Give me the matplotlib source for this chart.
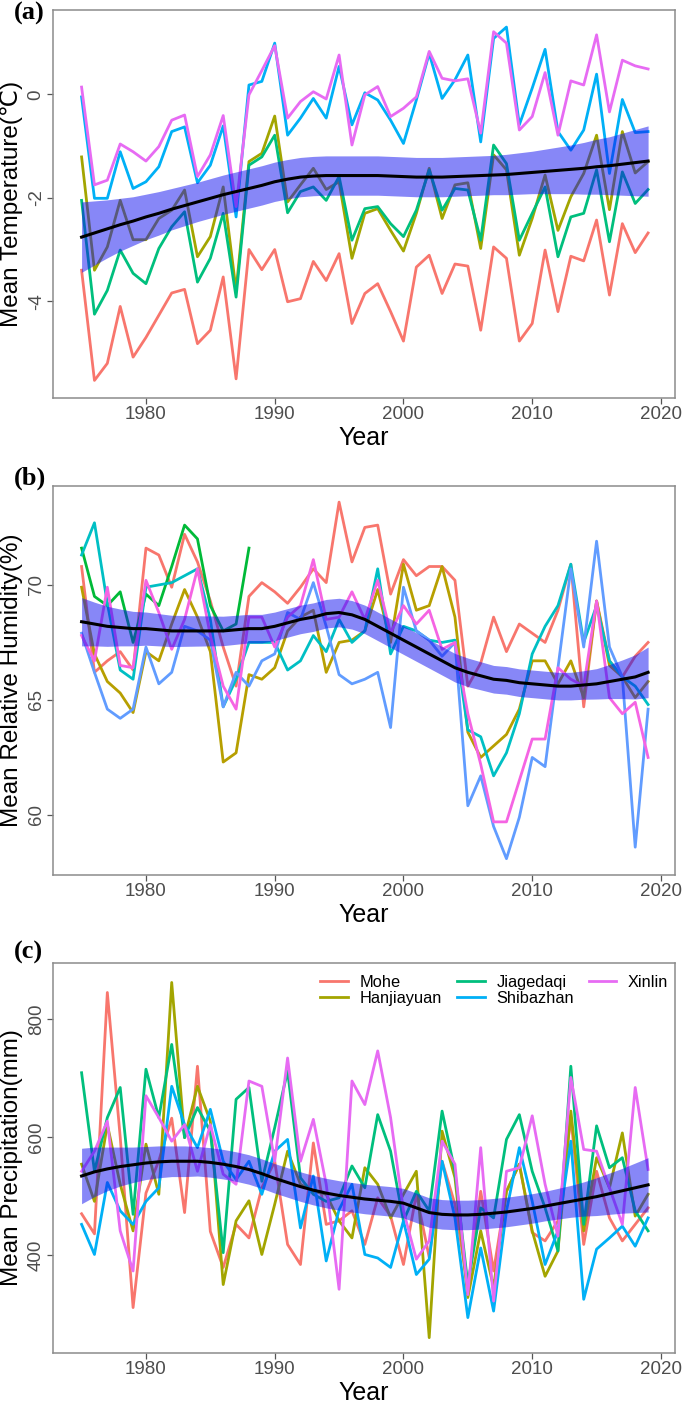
import numpy as np
import matplotlib
matplotlib.use("Agg")
import matplotlib.pyplot as plt

plt.rcParams['font.family'] = ['Liberation Sans', 'DejaVu Sans']
plt.rcParams['axes.unicode_minus'] = False

years = np.arange(1975, 2020)
stations = ["Mohe", "Hanjiayuan", "Jiagedaqi", "Shibazhan", "Xinlin"]
colors5 = ["#F8766D", "#A3A500", "#00BF7D", "#00B0F6", "#E76BF3"]
colors6 = ["#F8766D", "#B79F00", "#00BA38", "#00BFC4", "#619CFF", "#F564E3"]

# ---- (a) mean temperature
mohe_t = [-3.40, -5.53, -5.20, -4.10, -5.08, -4.70, -4.27, -3.84, -3.77, -4.82,
          -4.56, -3.53, -5.50, -3.00, -3.39, -3.00, -4.01, -3.95, -3.23, -3.60,
          -3.08, -4.43, -3.85, -3.66, -4.20, -4.77, -3.34, -3.11, -3.85, -3.28,
          -3.32, -4.56, -2.95, -3.17, -4.77, -4.43, -3.01, -4.20, -3.13, -3.22,
          -2.43, -3.88, -2.50, -3.06, -2.68]
hanj_t = [-1.21, -3.40, -2.95, -2.05, -2.81, -2.81, -2.40, -2.24, -1.85, -3.14,
          -2.75, -1.79, -3.79, -1.30, -1.14, -0.42, -2.08, -1.75, -1.43, -1.84,
          -1.69, -3.17, -2.30, -2.21, -2.63, -3.03, -2.30, -1.43, -2.40, -1.75,
          -1.71, -2.98, -1.17, -1.46, -3.11, -2.40, -1.56, -2.63, -1.98, -1.53,
          -0.79, -2.23, -0.72, -1.52, -1.30]
jiag_t = [-2.05, -4.25, -3.79, -3.01, -3.46, -3.66, -2.98, -2.56, -2.27, -3.63,
          -3.17, -2.30, -3.92, -1.37, -1.21, -0.79, -2.29, -1.88, -1.79, -2.05,
          -1.59, -2.82, -2.21, -2.17, -2.50, -2.75, -2.24, -1.46, -2.24, -1.82,
          -1.85, -2.82, -0.98, -1.34, -2.82, -2.30, -1.79, -3.14, -2.37, -2.30,
          -1.46, -2.85, -1.50, -2.11, -1.84]
shib_t = [-0.05, -2.01, -2.01, -1.11, -1.82, -1.69, -1.40, -0.72, -0.63, -1.71,
          -1.37, -0.61, -2.37, 0.18, 0.25, 0.99, -0.79, -0.46, -0.08, -0.46,
          0.54, -0.59, 0.03, -0.11, -0.50, -0.95, -0.11, 0.79, -0.08, 0.28,
          0.76, -0.92, 1.08, 1.30, -0.59, 0.12, 0.87, -0.72, -1.08, -0.69,
          0.39, -1.53, -0.10, -0.74, -0.72]
xinl_t = [0.14, -1.75, -1.66, -0.96, -1.11, -1.29, -1.01, -0.50, -0.40, -1.59,
          -1.17, -0.41, -2.17, -0.01, 0.46, 0.94, -0.46, -0.14, 0.05, -0.09,
          0.76, -0.98, -0.01, 0.15, -0.43, -0.27, -0.05, 0.83, 0.31, 0.26,
          0.30, -0.75, 1.21, 0.99, -0.69, -0.43, 0.42, -0.79, 0.26, 0.18,
          1.15, -0.34, 0.66, 0.55, 0.49]
smooth_t = [-2.76, -2.68, -2.60, -2.52, -2.45, -2.37, -2.30, -2.22, -2.15, -2.08,
            -2.01, -1.94, -1.88, -1.82, -1.76, -1.69, -1.64, -1.60, -1.58, -1.57,
            -1.57, -1.57, -1.57, -1.57, -1.58, -1.59, -1.60, -1.60, -1.60, -1.59,
            -1.58, -1.57, -1.56, -1.55, -1.53, -1.51, -1.49, -1.47, -1.45, -1.43,
            -1.40, -1.38, -1.35, -1.32, -1.29]
band_t = [0.68, 0.62, 0.56, 0.51, 0.47, 0.44, 0.42, 0.40, 0.39, 0.38,
          0.38, 0.38, 0.38, 0.38, 0.38, 0.38, 0.38, 0.38, 0.38, 0.38,
          0.38, 0.38, 0.38, 0.38, 0.38, 0.38, 0.38, 0.38, 0.38, 0.38,
          0.38, 0.38, 0.38, 0.39, 0.40, 0.41, 0.43, 0.45, 0.47, 0.50,
          0.53, 0.56, 0.60, 0.64, 0.68]

# ---- (b) mean relative humidity (six coloured groups in the original)
mohe_h = [70.8, 66.2, 66.7, 67.1, 66.3, 71.6, 71.3, 69.9, 72.2, 71.0,
          69.3, 67.3, 65.6, 69.5, 70.1, 69.7, 69.2, 69.9, 70.7, 70.1,
          73.6, 71.0, 72.5, 72.6, 69.6, 71.1, 70.4, 70.8, 70.8, 70.2,
          65.6, 66.6, 68.6, 67.1, 68.3, 67.9, 67.5, 68.9, 70.9, 64.7,
          69.3, 66.7, 66.0, 66.9, 67.5]
hanj_h = [69.9, 67.0, 65.8, 65.3, 64.45, 67.1, 66.7, 68.3, 69.8, 68.6,
          67.1, 62.3, 62.7, 66.1, 65.9, 66.4, 68.0, 68.6, 68.9, 66.2,
          67.5, 67.6, 68.0, 69.8, 67.5, 70.9, 68.9, 69.1, 70.8, 68.6,
          63.6, 62.5, 63.0, 63.5, 64.6, 66.7, 66.7, 65.7, 66.7, 65.1,
          69.3, 66.5, 66.0, 65.1, 65.8]
jiag_h = [71.6, 69.5, 69.1, 69.7, 67.5, 69.6, 69.1, 70.8, 72.6, 72.0,
          69.1, 68.0, 68.3, 71.6] + [np.nan] * 31
teal_h = [71.3, 72.7, 69.2, 66.3, 65.9, 69.9, 70.0, 70.1, 70.4, 70.7,
          68.5, 64.7, 65.9, 67.5, 67.5, 67.5, 66.3, 66.7, 67.8, 67.1,
          68.5, 67.5, 68.0, 70.7, 67.0, 68.2, 68.0, 67.6, 67.5, 67.6,
          63.7, 63.4, 61.7, 62.7, 64.4, 67.0, 68.2, 69.1, 70.9, 67.5,
          69.1, 66.7, 66.0, 65.6, 64.8]
shib_h = [67.9, 66.2, 64.6, 64.2, 64.6, 67.3, 65.7, 66.2, 68.2, 68.0,
          67.6, 64.7, 66.2, 65.6, 66.7, 67.0, 68.8, 68.5, 70.1, 68.2,
          66.1, 65.7, 65.9, 66.2, 63.8, 69.9, 68.0, 67.6, 66.9, 67.5,
          60.4, 61.7, 59.5, 58.1, 59.9, 62.5, 62.1, 66.4, 70.7, 67.3,
          71.9, 67.3, 66.0, 58.6, 64.6]
xinl_h = [67.8, 66.7, 69.9, 66.5, 66.4, 70.2, 68.8, 67.2, 68.5, 70.7,
          67.8, 65.6, 64.6, 68.6, 68.6, 67.3, 68.6, 69.1, 71.1, 68.5,
          68.6, 69.7, 68.5, 70.2, 67.9, 69.1, 68.3, 68.9, 67.2, 67.5,
          64.4, 62.2, 59.7, 59.7, 61.5, 63.3, 63.3, 66.4, 65.9, 65.6,
          69.3, 65.1, 64.4, 64.9, 62.5]
smooth_h = [68.4, 68.3, 68.2, 68.15, 68.1, 68.1, 68.05, 68.0, 68.0, 68.0,
            68.0, 68.0, 68.05, 68.1, 68.1, 68.2, 68.35, 68.5, 68.6, 68.75,
            68.8, 68.7, 68.5, 68.2, 67.9, 67.6, 67.3, 67.0, 66.7, 66.4,
            66.2, 66.05, 65.9, 65.85, 65.75, 65.7, 65.65, 65.6, 65.6, 65.65,
            65.7, 65.8, 65.9, 66.0, 66.2]
band_h = [1.05, 0.95, 0.87, 0.80, 0.75, 0.72, 0.70, 0.68, 0.67, 0.66,
          0.65, 0.64, 0.63, 0.62, 0.62, 0.62, 0.62, 0.62, 0.62, 0.62,
          0.62, 0.62, 0.62, 0.62, 0.62, 0.62, 0.62, 0.62, 0.62, 0.62,
          0.62, 0.61, 0.60, 0.60, 0.60, 0.60, 0.60, 0.60, 0.60, 0.62,
          0.66, 0.74, 0.84, 0.96, 1.10]

# ---- (c) mean precipitation
mohe_p = [470, 436, 845, 600, 311, 505, 560, 632, 472, 720,
          440, 379, 452, 429, 514, 559, 418, 384, 590, 452,
          458, 475, 418, 497, 466, 384, 503, 396, 559, 486,
          345, 508, 373, 508, 554, 438, 424, 458, 633, 418,
          542, 463, 424, 452, 480]
hanj_p = [554, 491, 621, 520, 441, 588, 503, 862, 599, 686,
          627, 350, 458, 492, 401, 486, 576, 520, 508, 503,
          458, 429, 548, 520, 463, 503, 542, 260, 610, 531,
          328, 441, 345, 508, 554, 441, 364, 407, 644, 441,
          565, 514, 607, 466, 503]
jiag_p = [709, 542, 633, 684, 469, 715, 633, 757, 599, 650,
          610, 404, 664, 684, 525, 616, 712, 531, 503, 491,
          497, 551, 514, 638, 576, 458, 508, 475, 644, 542,
          350, 480, 463, 596, 638, 542, 480, 407, 720, 452,
          619, 548, 565, 475, 441]
shib_p = [452, 401, 523, 475, 452, 491, 514, 686, 621, 582,
          647, 559, 528, 559, 503, 576, 596, 446, 534, 390,
          477, 520, 401, 395, 379, 458, 367, 393, 559, 463,
          294, 412, 305, 475, 582, 491, 384, 441, 593, 325,
          410, 429, 449, 415, 463]
xinl_p = [542, 576, 627, 441, 373, 670, 633, 593, 621, 542,
          621, 537, 520, 695, 686, 559, 734, 559, 630, 520,
          342, 695, 655, 746, 633, 475, 393, 424, 593, 554,
          333, 582, 322, 542, 548, 636, 520, 432, 701, 579,
          576, 514, 452, 684, 545]
smooth_p = [534, 541, 546, 550, 553, 556, 558, 559, 559, 559,
            557, 554, 550, 545, 538, 530, 523, 516, 510, 505,
            501, 498, 495, 493, 491, 488, 480, 472, 469, 468,
            468, 469, 471, 473, 476, 479, 483, 487, 491, 495,
            499, 504, 509, 514, 519]
band_p = [47, 42, 37, 33, 30, 28, 27, 26, 26, 25,
          25, 25, 25, 25, 25, 25, 25, 25, 25, 25,
          25, 25, 25, 25, 25, 25, 25, 25, 25, 25,
          25, 25, 25, 25, 25, 25, 25, 26, 27, 29,
          32, 35, 38, 42, 46]

panels = [
    dict(series=[mohe_t, hanj_t, jiag_t, shib_t, xinl_t], colors=colors5,
         smooth=smooth_t, band=band_t, ylim=(-5.87, 1.63), yticks=[-4, -2, 0],
         ylabel="Mean Temperature(\u2103)", letter="(a)", top=10, bottom=398),
    dict(series=[mohe_h, hanj_h, jiag_h, teal_h, shib_h, xinl_h], colors=colors6,
         smooth=smooth_h, band=band_h, ylim=(57.39, 74.3), yticks=[60, 65, 70],
         ylabel="Mean Relative Humidity(%)", letter="(b)", top=486, bottom=875),
    dict(series=[mohe_p, hanj_p, jiag_p, shib_p, xinl_p], colors=colors5,
         smooth=smooth_p, band=band_p, ylim=(234, 895), yticks=[400, 600, 800],
         ylabel="Mean Precipitation(mm)", letter="(c)", top=963, bottom=1353),
]

W, H = 685, 1411
fig = plt.figure(figsize=(W / 100, H / 100), dpi=100)
left, right = 53, 675
letter_top = {"(a)": 2, "(b)": 467, "(c)": 941}

for p in panels:
    ax = fig.add_axes([left / W, 1 - p["bottom"] / H, (right - left) / W,
                       (p["bottom"] - p["top"]) / H])
    for vals, col in zip(p["series"], p["colors"]):
        ax.plot(years, vals, color=col, lw=2.0, zorder=2)
    sm = np.array(p["smooth"], dtype=float)
    bw = np.array(p["band"], dtype=float)
    ax.fill_between(years, sm - bw, sm + bw, color="#1010F0", alpha=0.5,
                    lw=0, zorder=3)
    ax.plot(years, sm, color="black", lw=2.2, zorder=4)

    ax.set_xlim(1972.78, 2021.09)
    ax.set_ylim(*p["ylim"])
    ax.set_xticks([1980, 1990, 2000, 2010, 2020])
    ax.set_yticks(p["yticks"])
    ax.set_yticklabels([str(v) for v in p["yticks"]], rotation=90, va="center")
    ax.tick_params(length=4, width=0.9, color="#555555", labelcolor="#4D4D4D",
                   labelsize=13.5, pad=2)
    for s in ax.spines.values():
        s.set_color("#8C8C8C")
        s.set_linewidth(1.1)
    ax.set_xlabel("Year", fontsize=18, labelpad=2)
    ax.set_ylabel(p["ylabel"], fontsize=17.5, labelpad=3)
    fig.text(14 / W, 1 - letter_top[p["letter"]] / H, p["letter"],
             family=["Liberation Serif", "DejaVu Serif"], fontweight="bold",
             fontsize=19, va="top", ha="left")
    if p["letter"] == "(c)":
        for st, col in zip(stations, colors5):
            ax.plot([], [], color=col, lw=2.0, label=st)
        ax.legend(loc="upper left", bbox_to_anchor=(0.43, 0.97), ncol=3,
                  frameon=False, fontsize=11.8, handlelength=1.7,
                  handletextpad=0.7, columnspacing=0.9, labelspacing=0.05,
                  borderpad=0, borderaxespad=0)

fig.savefig("out.png", dpi=100)
